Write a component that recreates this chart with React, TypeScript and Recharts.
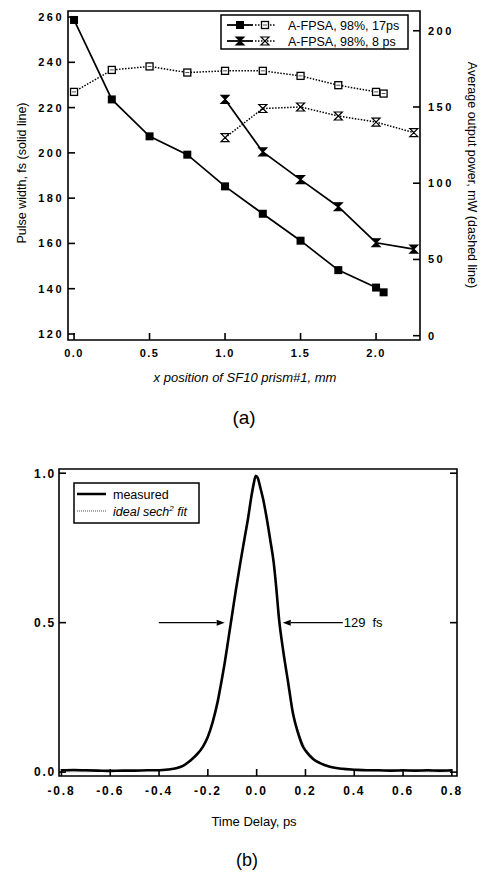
import React from 'react';
import { LineChart, Line, XAxis, YAxis, ReferenceArea, ReferenceLine, Customized } from 'recharts';

const FONT = "'Liberation Sans', Arial, Helvetica, sans-serif";

// ---------- Chart (a) data ----------
const prismPos17 = [0, 0.25, 0.5, 0.75, 1.0, 1.25, 1.5, 1.75, 2.0, 2.05];
const pulseWidth17 = [258.7, 223.6, 207.3, 199.2, 185.2, 173.1, 161.2, 148.2, 140.5, 138.4];
const power17 = [159.9, 174.3, 176.6, 172.6, 173.7, 173.7, 170.4, 164.3, 159.9, 158.8];
const prismPos8 = [1.0, 1.25, 1.5, 1.75, 2.0, 2.25];
const pulseWidth8 = [223.6, 200.4, 188.2, 176.2, 160.3, 157.5];
const power8 = [129.9, 149.0, 150.0, 144.1, 140.1, 133.2];
const legendLabelsA = ['A-FPSA, 98%, 17ps', 'A-FPSA, 98%, 8 ps'];
const xTicksA = [0, 0.5, 1.0, 1.5, 2.0];
const leftTicksA = [120, 140, 160, 180, 200, 220, 240, 260];
const rightTicksA = [0, 50, 100, 150, 200];

// ---------- Chart (b) data ----------
const delay = [-0.80, -0.75, -0.70, -0.65, -0.60, -0.55, -0.50, -0.45, -0.40, -0.36, -0.33, -0.30, -0.27, -0.25, -0.22, -0.20, -0.18, -0.16, -0.145, -0.13, -0.115, -0.10, -0.085, -0.067, -0.05, -0.035, -0.022, -0.012, -0.004, 0.004, 0.014, 0.026, 0.04, 0.055, 0.07, 0.08, 0.092, 0.108, 0.129, 0.149, 0.17, 0.19, 0.21, 0.23, 0.26, 0.30, 0.35, 0.40, 0.45, 0.50, 0.55, 0.60, 0.65, 0.70, 0.75, 0.80];
const measured = [0.006, 0.007, 0.006, 0.005, 0.004, 0.005, 0.005, 0.006, 0.006, 0.009, 0.013, 0.022, 0.040, 0.055, 0.085, 0.118, 0.168, 0.235, 0.30, 0.37, 0.45, 0.53, 0.61, 0.70, 0.78, 0.85, 0.92, 0.965, 0.99, 0.985, 0.955, 0.915, 0.855, 0.78, 0.70, 0.62, 0.51, 0.41, 0.30, 0.195, 0.13, 0.085, 0.062, 0.045, 0.030, 0.018, 0.011, 0.008, 0.006, 0.006, 0.005, 0.006, 0.005, 0.006, 0.005, 0.006];
const sechFit = [0.001, 0.001, 0.001, 0.002, 0.002, 0.003, 0.004, 0.005, 0.007, 0.010, 0.014, 0.022, 0.036, 0.050, 0.083, 0.115, 0.165, 0.232, 0.298, 0.37, 0.45, 0.53, 0.61, 0.70, 0.785, 0.86, 0.925, 0.968, 0.995, 0.99, 0.96, 0.92, 0.86, 0.785, 0.705, 0.625, 0.52, 0.415, 0.305, 0.205, 0.14, 0.095, 0.068, 0.05, 0.032, 0.019, 0.011, 0.007, 0.005, 0.004, 0.003, 0.002, 0.002, 0.001, 0.001, 0.001];
const legendLabelsB = ['measured', 'ideal sech', '2', ' fit'];
const xTicksB = [-0.8, -0.6, -0.4, -0.2, 0, 0.2, 0.4, 0.6, 0.8];
const yTicksB = [0, 0.5, 1.0];
const fwhmText = ['129', 'fs'];
const arrowLeft = [-0.401, -0.131];
const arrowRight = [0.353, 0.107];
const halfLevel = 0.5;

const dataA17 = prismPos17.map((x, i) => ({ x, pw: pulseWidth17[i], pow: power17[i] }));
const dataA8 = prismPos8.map((x, i) => ({ x, pw: pulseWidth8[i], pow: power8[i] }));
const dataB = delay.map((t, i) => ({ t, m: measured[i], f: sechFit[i] }));

const DOM_XA: [number, number] = [-0.04, 2.291];
const DOM_LA: [number, number] = [117.34, 262.66];
const DOM_RA: [number, number] = [-2.83, 212.96];
const DOM_XB: [number, number] = [-0.81, 0.821];
const DOM_YB: [number, number] = [-0.013, 1.014];

type TickOpts = {
  side: 'left' | 'right' | 'bottom' | 'top';
  margin: number;
  len: number;
  fmt?: (v: number) => string;
  fontSize?: number;
  ls?: number;
};

function makeTick(o: TickOpts) {
  return (props: any) => {
    const { x, y, payload } = props;
    const v = payload.value as number;
    const label = o.fmt ? o.fmt(v) : null;
    const st = { fontFamily: FONT, fontSize: o.fontSize || 11, fontWeight: 700, letterSpacing: o.ls || 0 };
    if (o.side === 'left') {
      const ax = x + o.margin;
      return (
        <g>
          <line x1={ax} x2={ax + o.len} y1={y} y2={y} stroke="#000" strokeWidth={1.6} />
          {label !== null && <text x={x} y={y} dy="0.36em" textAnchor="end" fill="#000" style={st}>{label}</text>}
        </g>
      );
    }
    if (o.side === 'right') {
      const ax = x - o.margin;
      return (
        <g>
          <line x1={ax} x2={ax - o.len} y1={y} y2={y} stroke="#000" strokeWidth={1.6} />
          {label !== null && <text x={x} y={y} dy="0.36em" textAnchor="start" fill="#000" style={st}>{label}</text>}
        </g>
      );
    }
    if (o.side === 'bottom') {
      const ay = y - o.margin;
      return (
        <g>
          <line x1={x} x2={x} y1={ay} y2={ay - o.len} stroke="#000" strokeWidth={1.6} />
          {label !== null && <text x={x} y={y} dy="0.36em" textAnchor="middle" fill="#000" style={st}>{label}</text>}
        </g>
      );
    }
    const ay = y + o.margin;
    return (
      <g>
        <line x1={x} x2={x} y1={ay} y2={ay + o.len} stroke="#000" strokeWidth={1.6} />
      </g>
    );
  };
}

const fmt1 = (v: number) => v.toFixed(1);
const fmt0 = (v: number) => String(v);

function FilledSquare(cx: number, cy: number, key?: any) {
  return <rect key={key} x={cx - 4} y={cy - 4} width={8} height={8} fill="#000" />;
}
function OpenSquare(cx: number, cy: number, key?: any) {
  return (
    <g key={key}>
      <rect x={cx - 3.5} y={cy - 3.5} width={7} height={7} fill="#fff" stroke="#000" strokeWidth={1.3} />
      <line x1={cx - 2} x2={cx + 2} y1={cy} y2={cy} stroke="#000" strokeWidth={0.7} />
    </g>
  );
}
function Hourglass(cx: number, cy: number, filled: boolean, key?: any) {
  const d = `M${cx - 4},${cy - 4} H${cx + 4} L${cx},${cy} L${cx + 4},${cy + 4} H${cx - 4} L${cx},${cy} Z`;
  return <path key={key} d={d} fill={filled ? '#000' : '#fff'} stroke="#000" strokeWidth={1.2} />;
}

const dotFilledSquare = (p: any) => FilledSquare(p.cx, p.cy, `fs${p.index}`);
const dotOpenSquare = (p: any) => OpenSquare(p.cx, p.cy, `os${p.index}`);
const dotFilledHour = (p: any) => Hourglass(p.cx, p.cy, true, `fh${p.index}`);
const dotOpenHour = (p: any) => Hourglass(p.cx, p.cy, false, `oh${p.index}`);

const txt = { fontFamily: FONT, fill: '#000' } as const;

function DecorA() {
  const rows = [25, 41];
  return (
    <g>
      <text x={22} y={173} transform="rotate(-90 22 173)" textAnchor="middle" dy="0.35em" style={{ ...txt, fontSize: 12.5 }}>Pulse width, fs (solid line)</text>
      <text x={472} y={175} transform="rotate(90 472 175)" textAnchor="middle" dy="0.35em" style={{ ...txt, fontSize: 12.5 }}>Average output power, mW (dashed line)</text>
      <text x={245} y={382} textAnchor="middle" style={{ ...txt, fontSize: 13, fontStyle: 'italic' }}>x position of SF10 prism#1, mm</text>
      <text x={244} y={424} textAnchor="middle" style={{ ...txt, fontSize: 19 }}>(a)</text>
      <rect x={221} y={15} width={187} height={34} fill="#fff" stroke="#000" strokeWidth={1.5} />
      {rows.map((ry, i) => (
        <g key={i}>
          <line x1={227} x2={253} y1={ry} y2={ry} stroke="#000" strokeWidth={1.8} />
          {i === 0 ? FilledSquare(240, ry) : Hourglass(240, ry, true)}
          <line x1={255} x2={276} y1={ry} y2={ry} stroke="#000" strokeWidth={1.5} strokeDasharray="1.5 1.5" />
          {i === 0 ? OpenSquare(265, ry) : Hourglass(265, ry, false)}
          <text x={288} y={ry} dy="0.36em" style={{ ...txt, fontSize: 12.5 }}>{legendLabelsA[i]}</text>
        </g>
      ))}
    </g>
  );
}

function DecorB() {
  return (
    <g>
      <text x={254} y={381} textAnchor="middle" dy="0.35em" style={{ ...txt, fontSize: 13 }}>Time Delay, ps</text>
      <text x={247} y={426} textAnchor="middle" style={{ ...txt, fontSize: 18 }}>(b)</text>
      <rect x={74} y={43} width={125} height={40} fill="#fff" stroke="#000" strokeWidth={1.5} />
      <line x1={77} x2={106} y1={54} y2={54} stroke="#000" strokeWidth={2.5} />
      <text x={113} y={54} dy="0.36em" style={{ ...txt, fontSize: 12.5 }}>{legendLabelsB[0]}</text>
      <line x1={77} x2={106} y1={71} y2={71} stroke="#555" strokeWidth={1} strokeDasharray="1 1" />
      <text x={113} y={71} dy="0.36em" style={{ ...txt, fontSize: 12.5, fontStyle: 'italic' }}>
        {legendLabelsB[1]}
        <tspan dy={-5} style={{ fontSize: 8 }}>{legendLabelsB[2]}</tspan>
        <tspan dy={5}>{legendLabelsB[3]}</tspan>
      </text>
    </g>
  );
}

const ArrowShape = (withText: boolean) => (p: any) => {
  const { x1, y1, x2, y2 } = p;
  const dir = x2 > x1 ? 1 : -1;
  const hx = x2 - dir * 8;
  return (
    <g>
      <line x1={x1} y1={y1} x2={hx} y2={y2} stroke="#000" strokeWidth={1.3} />
      <path d={`M${x2},${y2} L${hx},${y2 - 3} L${hx},${y2 + 3} Z`} fill="#000" />
      {withText && (
        <text x={x1 + 1} y={y1} dy="0.36em" style={{ ...txt, fontSize: 13 }}>
          {fwhmText[0]}
          <tspan dx={7}>{fwhmText[1]}</tspan>
        </text>
      )}
    </g>
  );
};

export default function App() {
  return (
    <div style={{ position: 'absolute', left: 0, top: 0, width: 483, height: 874, background: '#fff' }}>
      <div style={{ position: 'absolute', left: 0, top: 0 }}>
        <LineChart width={483} height={440} margin={{ top: 11, right: 0, bottom: 0, left: 0 }}>
          <XAxis xAxisId="B" dataKey="x" type="number" domain={DOM_XA} allowDataOverflow ticks={xTicksA}
            height={100} tickSize={0} tickMargin={13} axisLine={false} tickLine={false}
            tick={makeTick({ side: 'bottom', margin: 13, len: 7, fmt: fmt1, fontSize: 11, ls: 1.5 })} />
          <XAxis xAxisId="T" orientation="top" type="number" domain={DOM_XA} allowDataOverflow ticks={xTicksA}
            height={0} tickSize={0} tickMargin={0} axisLine={false} tickLine={false}
            tick={makeTick({ side: 'top', margin: 0, len: 7 })} />
          <YAxis yAxisId="L" type="number" domain={DOM_LA} allowDataOverflow ticks={leftTicksA} width={68}
            tickSize={0} tickMargin={4} axisLine={false} tickLine={false}
            tick={makeTick({ side: 'left', margin: 4, len: 7, fmt: fmt0, fontSize: 11, ls: 2.5 })} />
          <YAxis yAxisId="R" orientation="right" type="number" domain={DOM_RA} allowDataOverflow ticks={rightTicksA} width={63}
            tickSize={0} tickMargin={8} axisLine={false} tickLine={false}
            tick={makeTick({ side: 'right', margin: 8, len: 7, fmt: fmt0, fontSize: 11, ls: 2.5 })} />
          <ReferenceArea xAxisId="B" yAxisId="L" x1={DOM_XA[0]} x2={DOM_XA[1]} y1={DOM_LA[0]} y2={DOM_LA[1]}
            fill="none" fillOpacity={0} stroke="#000" strokeWidth={1.6} ifOverflow="visible" />
          <Line xAxisId="B" yAxisId="R" data={dataA17} dataKey="pow" type="linear" stroke="#000" strokeWidth={1.5}
            strokeDasharray="1.5 1.5" dot={dotOpenSquare} isAnimationActive={false} />
          <Line xAxisId="B" yAxisId="R" data={dataA8} dataKey="pow" type="linear" stroke="#000" strokeWidth={1.5}
            strokeDasharray="1.5 1.5" dot={dotOpenHour} isAnimationActive={false} />
          <Line xAxisId="B" yAxisId="L" data={dataA17} dataKey="pw" type="linear" stroke="#000" strokeWidth={1.7}
            dot={dotFilledSquare} isAnimationActive={false} />
          <Line xAxisId="B" yAxisId="L" data={dataA8} dataKey="pw" type="linear" stroke="#000" strokeWidth={1.7}
            dot={dotFilledHour} isAnimationActive={false} />
          <Customized component={DecorA} />
        </LineChart>
      </div>
      <div style={{ position: 'absolute', left: 0, top: 440 }}>
        <LineChart width={483} height={434} margin={{ top: 29, right: 0, bottom: 0, left: 0 }} data={dataB}>
          <XAxis xAxisId="B" dataKey="t" type="number" domain={DOM_XB} allowDataOverflow ticks={xTicksB}
            height={98} tickSize={0} tickMargin={15} axisLine={false} tickLine={false}
            tick={makeTick({ side: 'bottom', margin: 15, len: 7, fmt: fmt1, fontSize: 12, ls: 1.8 })} />
          <XAxis xAxisId="T" orientation="top" type="number" domain={DOM_XB} allowDataOverflow ticks={xTicksB}
            height={0} tickSize={0} tickMargin={0} axisLine={false} tickLine={false}
            tick={makeTick({ side: 'top', margin: 0, len: 7 })} />
          <YAxis yAxisId="L" type="number" domain={DOM_YB} allowDataOverflow ticks={yTicksB} width={59}
            tickSize={0} tickMargin={3} axisLine={false} tickLine={false}
            tick={makeTick({ side: 'left', margin: 3, len: 7, fmt: fmt1, fontSize: 12, ls: 1.8 })} />
          <YAxis yAxisId="R" orientation="right" type="number" domain={DOM_YB} allowDataOverflow ticks={yTicksB} width={26}
            tickSize={0} tickMargin={0} axisLine={false} tickLine={false}
            tick={makeTick({ side: 'right', margin: 0, len: 7 })} />
          <ReferenceArea xAxisId="B" yAxisId="L" x1={DOM_XB[0]} x2={DOM_XB[1]} y1={DOM_YB[0]} y2={DOM_YB[1]}
            fill="none" fillOpacity={0} stroke="#000" strokeWidth={1.6} ifOverflow="visible" />
          <Line xAxisId="B" yAxisId="L" dataKey="f" type="monotone" stroke="#777" strokeWidth={1} strokeDasharray="1 1"
            dot={false} isAnimationActive={false} />
          <Line xAxisId="B" yAxisId="L" dataKey="m" type="monotone" stroke="#000" strokeWidth={2.6} dot={false}
            isAnimationActive={false} />
          <ReferenceLine xAxisId="B" yAxisId="L" segment={[{ x: arrowLeft[0], y: halfLevel }, { x: arrowLeft[1], y: halfLevel }]}
            ifOverflow="visible" shape={ArrowShape(false)} />
          <ReferenceLine xAxisId="B" yAxisId="L" segment={[{ x: arrowRight[0], y: halfLevel }, { x: arrowRight[1], y: halfLevel }]}
            ifOverflow="visible" shape={ArrowShape(true)} />
          <Customized component={DecorB} />
        </LineChart>
      </div>
    </div>
  );
}
